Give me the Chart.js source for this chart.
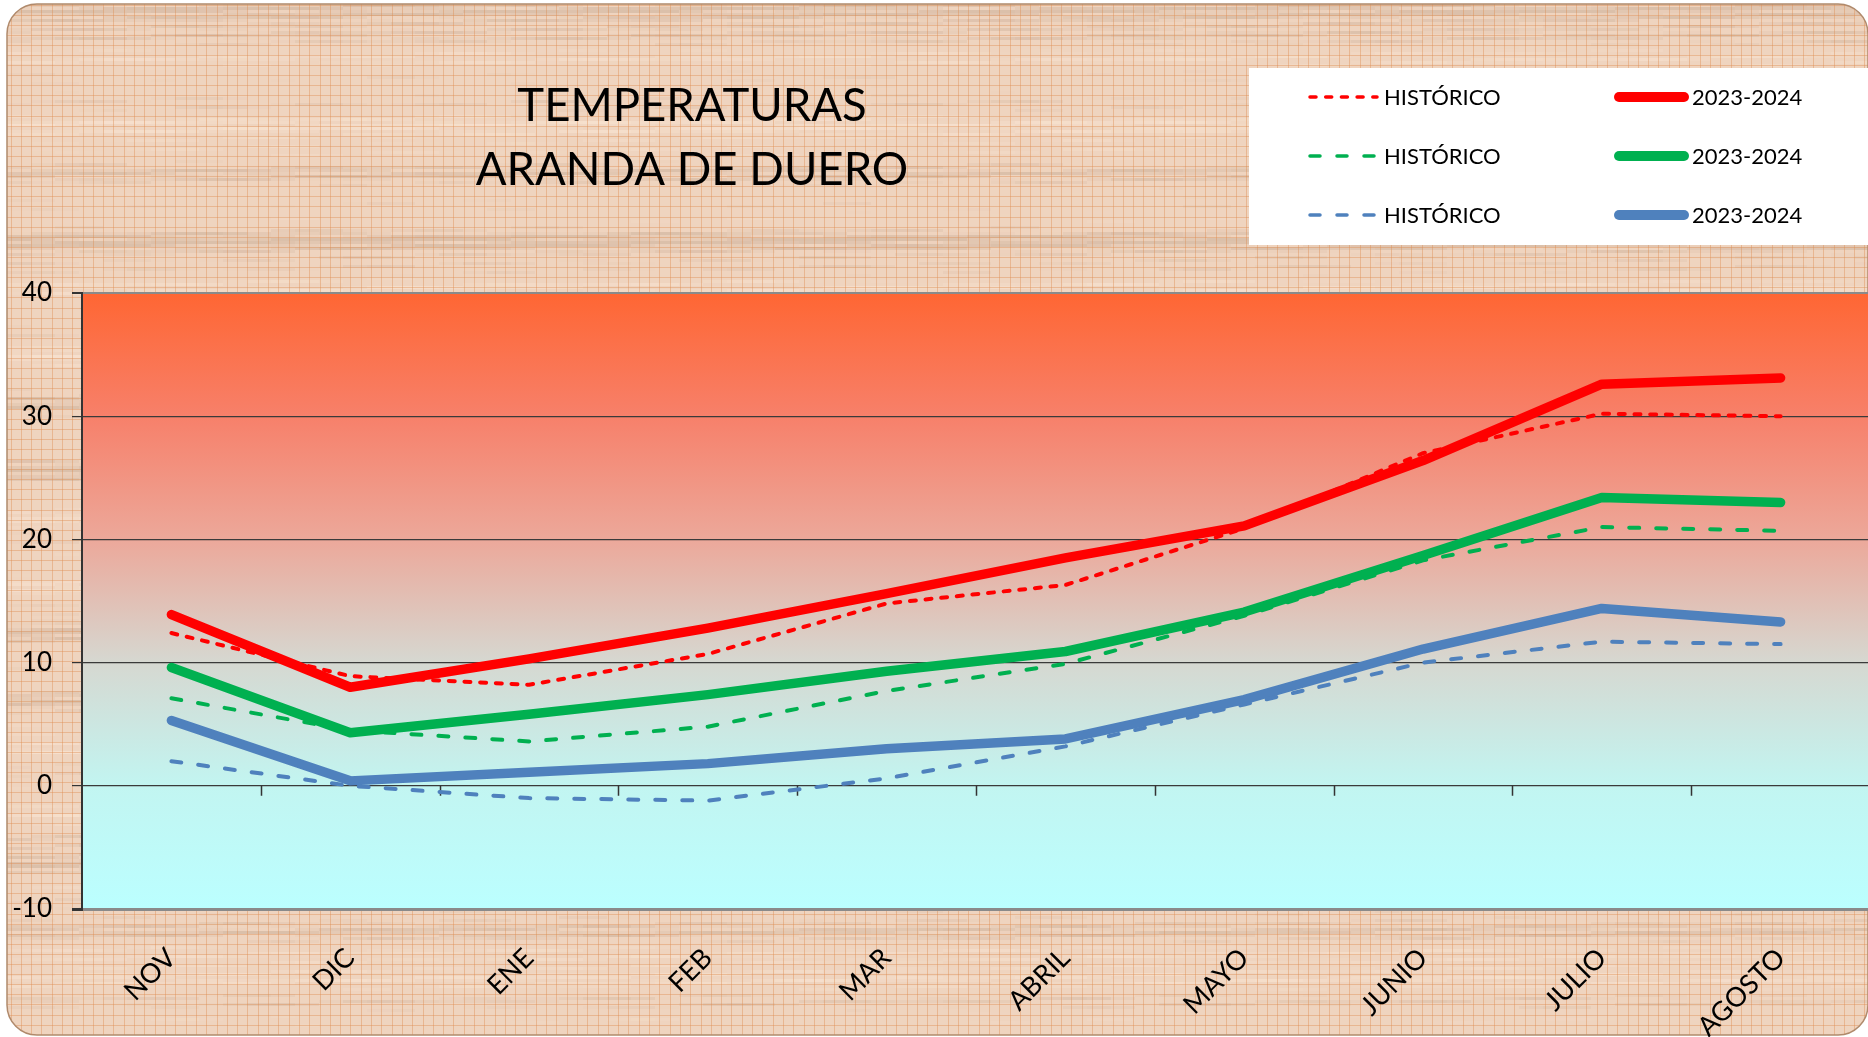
<!DOCTYPE html>
<html>
<head>
<meta charset="utf-8">
<script src="https://cdn.jsdelivr.net/npm/chart.js@4.4.1/dist/chart.umd.min.js"></script>
<style>
html,body{margin:0;padding:0;background:#fff;overflow:hidden;}
#wrap{position:absolute;left:0;top:0;width:1872px;height:1037px;}
canvas{display:block;}
</style>
</head>
<body>
<div id="wrap"><canvas id="c" width="1872" height="1037"></canvas></div>
<script>
// ---- DATA ----
const categories = ['NOV','DIC','ENE','FEB','MAR','ABRIL','MAYO','JUNIO','JULIO','AGOSTO'];
const maxHistorico = [12.4, 8.9, 8.2, 10.7, 14.8, 16.3, 20.9, 27.0, 30.2, 30.0];
const max20232024  = [13.9, 8.0, 10.3, 12.8, 15.6, 18.5, 21.1, 26.4, 32.6, 33.1];
const medHistorico = [7.1, 4.5, 3.6, 4.8, 7.7, 9.9, 13.8, 18.3, 21.0, 20.7];
const med20232024  = [9.6, 4.3, 5.8, 7.4, 9.3, 10.9, 14.1, 18.7, 23.4, 23.0];
const minHistorico = [2.0, 0.0, -1.0, -1.2, 0.6, 3.2, 6.6, 10.0, 11.7, 11.5];
const min20232024  = [5.3, 0.4, 1.1, 1.8, 3.0, 3.8, 7.0, 11.1, 14.4, 13.3];
const seriesLabels = ['HISTÓRICO','2023-2024'];
const titleLines = ['TEMPERATURAS','ARANDA DE DUERO'];
const yMin = -10, yMax = 40, yStep = 10;

const RED = '#FF0000', GREEN = '#00B050', BLUE = '#4F81BD';
const DASH_RED = [6, 9.7];
const DASH_LONG = [10, 17];

function histDs(label, data, color, dash){
  return {label, data, borderColor: color, backgroundColor: color, borderWidth: 4,
    borderDash: dash, borderCapStyle: 'round', borderJoinStyle: 'round',
    pointRadius: 0, tension: 0, fill: false, order: 0};
}
function curDs(label, data, color){
  return {label, data, borderColor: color, backgroundColor: color, borderWidth: 9.5,
    borderCapStyle: 'round', borderJoinStyle: 'round',
    pointRadius: 0, tension: 0, fill: false, order: 1};
}

const datasets = [
  histDs(seriesLabels[0], maxHistorico, RED, DASH_RED),
  curDs(seriesLabels[1], max20232024, RED),
  histDs(seriesLabels[0], medHistorico, GREEN, DASH_LONG),
  curDs(seriesLabels[1], med20232024, GREEN),
  histDs(seriesLabels[0], minHistorico, BLUE, DASH_LONG),
  curDs(seriesLabels[1], min20232024, BLUE)
];

// ---- background / frame / plot gradient ----
const bgPlugin = {
  id: 'bg',
  beforeDraw(chart){
    const ctx = chart.ctx, W = chart.width, H = chart.height;
    ctx.save();
    ctx.fillStyle = '#ffffff';
    ctx.fillRect(0, 0, W, H);
    const x0 = 7, y0 = 4, x1 = 1868, y1 = 1035;
    ctx.beginPath();
    ctx.roundRect(x0, y0, x1 - x0, y1 - y0, 30);
    ctx.save();
    ctx.clip();
    ctx.fillStyle = '#efd4bf';
    ctx.fillRect(x0, y0, x1 - x0, y1 - y0);
    // wood grain streaks (deterministic)
    for (let y = y0; y < y1; y += 3) {
      const row = Math.sin(y * 0.083) * 0.5 + Math.sin(y * 0.029 + 1.3) * 0.35 + Math.sin(y * 0.19 + 0.4) * 0.3;
      for (let x = x0; x < x1; x += 24) {
        const v = row + Math.sin(x * 0.013 + y * 0.7) * 0.35 + Math.sin(x * 0.041 + y * 1.3) * 0.2;
        if (v > 0.45) {
          ctx.fillStyle = 'rgba(120,88,62,' + Math.min(0.16, (v - 0.45) * 0.22).toFixed(3) + ')';
          ctx.fillRect(x, y, 24, 3);
        } else if (v < -0.55) {
          ctx.fillStyle = 'rgba(255,238,222,' + Math.min(0.45, (-v - 0.55) * 0.5).toFixed(3) + ')';
          ctx.fillRect(x, y, 24, 3);
        }
      }
    }
    // paper grid
    ctx.lineWidth = 1;
    ctx.strokeStyle = 'rgba(222,140,80,0.42)';
    ctx.beginPath();
    for (let x = x0 + 3.5; x < x1; x += 10.3) { ctx.moveTo(Math.round(x) + 0.5, y0); ctx.lineTo(Math.round(x) + 0.5, y1); }
    for (let y = y0 + 0.5; y < y1; y += 10.1) { ctx.moveTo(x0, Math.round(y) + 0.5); ctx.lineTo(x1, Math.round(y) + 0.5); }
    ctx.stroke();
    ctx.restore();
    ctx.beginPath();
    ctx.roundRect(x0, y0, x1 - x0, y1 - y0, 30);
    ctx.strokeStyle = '#b08a6c';
    ctx.lineWidth = 1.5;
    ctx.stroke();
    // plot area gradient
    const a = chart.chartArea;
    const g = ctx.createLinearGradient(0, a.top, 0, a.bottom);
    g.addColorStop(0, '#FF6633');
    g.addColorStop(0.2, '#F7806A');
    g.addColorStop(0.4, '#ECA89A');
    g.addColorStop(0.6, '#D6D8D1');
    g.addColorStop(0.8, '#C2F5F1');
    g.addColorStop(1, '#BBFFFF');
    ctx.fillStyle = g;
    ctx.fillRect(a.left, a.top, a.right - a.left, a.bottom - a.top);
    ctx.restore();
  },
  beforeDatasetsDraw(chart){
    // category tick marks hanging from the zero line
    const ctx = chart.ctx, xs = chart.scales.x, ys = chart.scales.y;
    const y0 = ys.getPixelForValue(0);
    const half = (xs.getPixelForValue(1) - xs.getPixelForValue(0)) / 2;
    ctx.save();
    ctx.strokeStyle = '#333';
    ctx.lineWidth = 1.5;
    ctx.beginPath();
    for (let i = 1; i < categories.length; i++) {
      const x = Math.round(xs.getPixelForValue(i) - half) + 0.5;
      ctx.moveTo(x, y0);
      ctx.lineTo(x, y0 + 10);
    }
    ctx.stroke();
    ctx.restore();
  }
};

// ---- title + legend ----
const overlayPlugin = {
  id: 'overlay',
  afterDraw(chart){
    const ctx = chart.ctx;
    ctx.save();
    ctx.fillStyle = '#000';
    ctx.textAlign = 'center';
    ctx.textBaseline = 'alphabetic';
    ctx.font = '45.5px Lato';
    ctx.fillText(titleLines[0], 692, 121);
    ctx.fillText(titleLines[1], 692, 185);

    // legend box
    ctx.fillStyle = '#ffffff';
    ctx.fillRect(1249, 68, 1872 - 1249, 177);
    const ds = chart.data.datasets;
    const rows = [97, 156, 215];
    ctx.font = '22px Lato';
    ctx.textAlign = 'left';
    ctx.textBaseline = 'middle';
    for (let r = 0; r < 3; r++) {
      const y = rows[r];
      const h = ds[r * 2], c = ds[r * 2 + 1];
      ctx.save();
      ctx.strokeStyle = h.borderColor;
      ctx.lineWidth = 3.5;
      ctx.lineCap = 'round';
      ctx.setLineDash(h.borderDash);
      ctx.beginPath();
      ctx.moveTo(1310, y); ctx.lineTo(1377, y);
      ctx.stroke();
      ctx.restore();
      ctx.fillStyle = '#000';
      ctx.fillText(h.label, 1384, y + 1);
      ctx.save();
      ctx.strokeStyle = c.borderColor;
      ctx.lineWidth = 10;
      ctx.lineCap = 'round';
      ctx.beginPath();
      ctx.moveTo(1619, y); ctx.lineTo(1684, y);
      ctx.stroke();
      ctx.restore();
      ctx.fillStyle = '#000';
      ctx.fillText(c.label, 1692, y + 1);
    }
    ctx.restore();
  }
};

new Chart(document.getElementById('c'), {
  type: 'line',
  data: { labels: categories, datasets },
  options: {
    responsive: false,
    animation: false,
    devicePixelRatio: 1,
    layout: { padding: { top: 293, right: 2, left: 0, bottom: 0 } },
    plugins: { legend: { display: false }, title: { display: false }, tooltip: { enabled: false } },
    scales: {
      x: {
        type: 'category',
        offset: true,
        grid: { display: false },
        border: { display: false },
        ticks: {
          color: '#000',
          font: { family: 'Lato', size: 27 },
          minRotation: 45, maxRotation: 45,
          autoSkip: false,
          padding: 25
        },
        afterFit(s){ s.height = 128; }
      },
      y: {
        min: yMin, max: yMax,
        ticks: { stepSize: yStep, color: '#000', font: { family: 'Lato', size: 26 }, padding: 20 },
        grid: {
          color: (c) => (c.tick && (c.tick.value === yMax || c.tick.value === yMin)) ? '#8a8a8a' : '#3a3a3a',
          lineWidth: (c) => (c.tick && c.tick.value === yMin) ? 3 : (c.tick && c.tick.value === yMax ? 2 : 1.2),
          tickColor: '#333',
          tickLength: 10,
          drawTicks: true
        },
        border: { color: '#333', width: 2 },
        afterFit(s){ s.width = 82; }
      }
    }
  },
  plugins: [bgPlugin, overlayPlugin]
});
</script>
</body>
</html>
